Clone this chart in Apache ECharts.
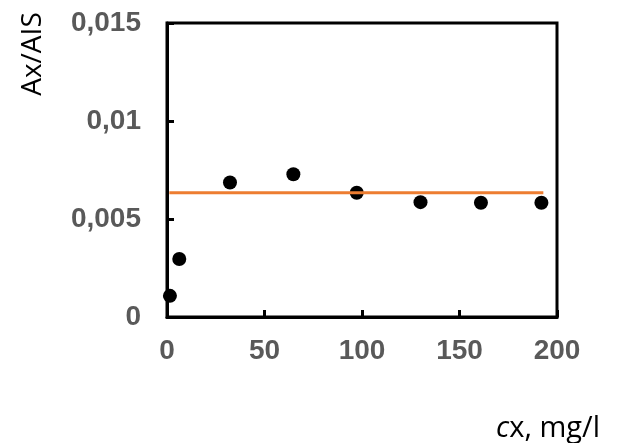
<!DOCTYPE html>
<html>
<head>
<meta charset="utf-8">
<script src="https://cdn.jsdelivr.net/npm/echarts@6/dist/echarts.min.js"></script>
<style>
  html, body { margin: 0; padding: 0; background: #fff; }
  #chart { width: 618px; height: 443px; }
</style>
</head>
<body>
<div id="chart"></div>
<script>
// Measured concentration (mg/l) and response ratio Ax/AIS
const concentrations = [1.5, 6.3, 32.3, 64.8, 97.3, 130, 161, 192];
const ratios = [0.00108, 0.00296, 0.00686, 0.00728, 0.00634, 0.00586, 0.00583, 0.00583];

// Mean level line drawn across the measured range
const meanLineX = [1.2, 193];
const meanLineY = [0.00634, 0.00634];

// Axis ticks and their labels
const xTicks = [0, 50, 100, 150, 200];
const yTicks = [0, 0.005, 0.01, 0.015];
const yTickLabels = ['0', '0,005', '0,01', '0,015'];

const labelStyle = {
  color: '#595959',
  fontFamily: 'Liberation Sans, Arial, sans-serif',
  fontWeight: 'bold',
  fontSize: 28
};

const chart = echarts.init(document.getElementById('chart'));
chart.setOption({
  animation: false,
  backgroundColor: '#ffffff',
  grid: {
    left: 167, right: 61, top: 23, bottom: 126,
    show: true, borderColor: '#000', borderWidth: 3, backgroundColor: 'transparent'
  },
  xAxis: {
    type: 'value',
    min: xTicks[0], max: xTicks[xTicks.length - 1], interval: 50,
    axisLine: { lineStyle: { color: '#000', width: 3 } },
    axisTick: { inside: true, length: 7, lineStyle: { color: '#000', width: 3 } },
    splitLine: { show: false },
    axisLabel: Object.assign({ margin: 20 }, labelStyle)
  },
  yAxis: {
    type: 'value',
    min: yTicks[0], max: yTicks[yTicks.length - 1], interval: 0.005,
    axisLine: { show: true, lineStyle: { color: '#000', width: 3 } },
    axisTick: { show: true, inside: true, length: 7, lineStyle: { color: '#000', width: 3 } },
    splitLine: { show: false },
    axisLabel: Object.assign({
      margin: 26,
      formatter: function (v) {
        let best = 0;
        yTicks.forEach(function (t, i) { if (Math.abs(t - v) < Math.abs(yTicks[best] - v)) best = i; });
        return yTickLabels[best];
      }
    }, labelStyle)
  },
  graphic: [
    {
      type: 'text',
      x: 33, y: 54, rotation: Math.PI / 2,
      style: {
        text: 'Ax/AIS',
        fontFamily: 'Open Sans, sans-serif', fontSize: 28,
        fill: '#000', textAlign: 'center', textVerticalAlign: 'middle'
      }
    },
    {
      type: 'text',
      x: 600, y: 429,
      style: {
        text: '{i|c}x, mg/l',
        fontFamily: 'Open Sans, sans-serif', fontSize: 29,
        fill: '#000', textAlign: 'right', textVerticalAlign: 'middle',
        rich: {
          i: { fontFamily: 'Open Sans, sans-serif', fontStyle: 'italic', fontSize: 29, fill: '#000' }
        }
      }
    }
  ],
  series: [
    {
      type: 'scatter',
      data: concentrations.map(function (c, i) { return [c, ratios[i]]; }),
      symbol: 'circle', symbolSize: 14,
      itemStyle: { color: '#000', opacity: 1 },
      z: 2
    },
    {
      type: 'line',
      data: meanLineX.map(function (x, i) { return [x, meanLineY[i]]; }),
      showSymbol: false, symbol: 'none',
      lineStyle: { color: '#ED7D31', width: 3 },
      z: 3
    }
  ]
});
</script>
</body>
</html>
